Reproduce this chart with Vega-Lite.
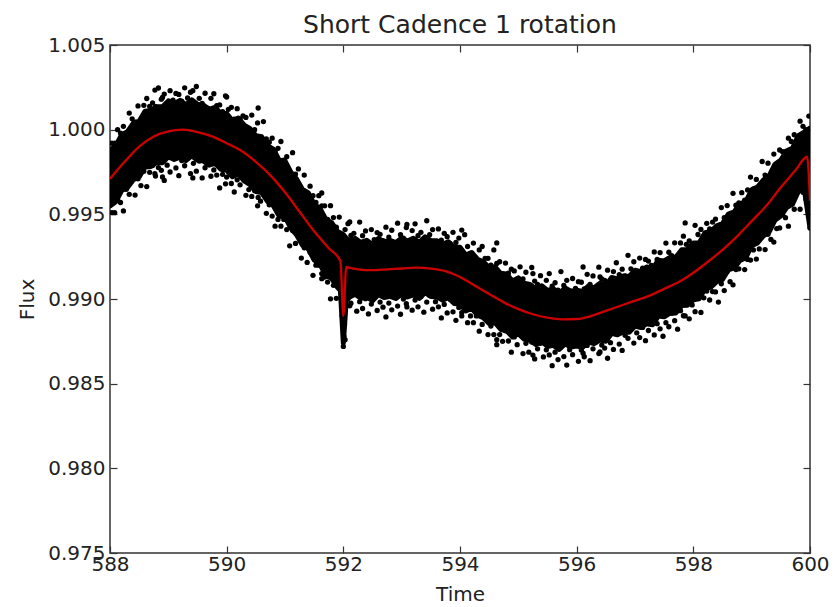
{
  "$schema": "https://vega.github.io/schema/vega-lite/v6.json",
  "width": 700,
  "height": 508,
  "autosize": {"type": "none"},
  "padding": {"left": 110, "top": 45, "right": 25, "bottom": 54},
  "background": "white",
  "title": {"text": "Short Cadence 1 rotation", "fontSize": 25, "font": "DejaVu Sans", "fontWeight": "normal", "color": "#222", "offset": -3},
  "datasets": {
    "band": [
      {"t":588.0,"lo":0.99550,"hi":0.99880},{"t":588.1,"lo":0.99575,"hi":0.99905},{"t":588.2,"lo":0.99640,"hi":0.99970},{"t":588.3,"lo":0.99658,"hi":0.99988},{"t":588.4,"lo":0.99704,"hi":1.00039},{"t":588.5,"lo":0.99720,"hi":1.00050},{"t":588.6,"lo":0.99779,"hi":1.00109},{"t":588.7,"lo":0.99783,"hi":1.00113},{"t":588.8,"lo":0.99806,"hi":1.00136},{"t":588.9,"lo":0.99805,"hi":1.00135},
      {"t":589.0,"lo":0.99840,"hi":1.00170},{"t":589.1,"lo":0.99824,"hi":1.00154},{"t":589.2,"lo":0.99838,"hi":1.00173},{"t":589.3,"lo":0.99817,"hi":1.00147},{"t":589.4,"lo":0.99846,"hi":1.00176},{"t":589.5,"lo":0.99820,"hi":1.00150},{"t":589.6,"lo":0.99815,"hi":1.00145},{"t":589.7,"lo":0.99790,"hi":1.00120},{"t":589.8,"lo":0.99802,"hi":1.00132},{"t":589.9,"lo":0.99766,"hi":1.00096},
      {"t":590.0,"lo":0.99760,"hi":1.00095},{"t":590.1,"lo":0.99722,"hi":1.00052},{"t":590.2,"lo":0.99739,"hi":1.00069},{"t":590.3,"lo":0.99697,"hi":1.00027},{"t":590.4,"lo":0.99676,"hi":1.00006},{"t":590.5,"lo":0.99635,"hi":0.99965},{"t":590.6,"lo":0.99628,"hi":0.99958},{"t":590.7,"lo":0.99576,"hi":0.99906},{"t":590.8,"lo":0.99550,"hi":0.99885},{"t":590.9,"lo":0.99490,"hi":0.99820},
      {"t":591.0,"lo":0.99485,"hi":0.99815},{"t":591.1,"lo":0.99419,"hi":0.99749},{"t":591.2,"lo":0.99378,"hi":0.99708},{"t":591.3,"lo":0.99317,"hi":0.99647},{"t":591.4,"lo":0.99296,"hi":0.99626},{"t":591.5,"lo":0.99230,"hi":0.99560},{"t":591.6,"lo":0.99205,"hi":0.99535},{"t":591.7,"lo":0.99140,"hi":0.99470},{"t":591.8,"lo":0.99121,"hi":0.99451},{"t":591.9,"lo":0.99069,"hi":0.99399},
      {"t":591.95,"lo":0.99050,"hi":0.99390},{"t":592.0,"lo":0.98740,"hi":0.99380},{"t":592.05,"lo":0.98990,"hi":0.99360},
      {"t":592.1,"lo":0.99010,"hi":0.99340},{"t":592.2,"lo":0.99028,"hi":0.99358},{"t":592.3,"lo":0.99004,"hi":0.99334},{"t":592.4,"lo":0.99012,"hi":0.99347},{"t":592.5,"lo":0.98990,"hi":0.99320},{"t":592.6,"lo":0.99027,"hi":0.99357},{"t":592.7,"lo":0.99009,"hi":0.99339},{"t":592.8,"lo":0.99016,"hi":0.99346},{"t":592.9,"lo":0.99003,"hi":0.99333},
      {"t":593.0,"lo":0.99030,"hi":0.99360},{"t":593.1,"lo":0.99012,"hi":0.99342},{"t":593.2,"lo":0.99024,"hi":0.99359},{"t":593.3,"lo":0.99004,"hi":0.99334},{"t":593.4,"lo":0.99037,"hi":0.99367},{"t":593.5,"lo":0.99015,"hi":0.99345},{"t":593.6,"lo":0.99014,"hi":0.99344},{"t":593.7,"lo":0.98993,"hi":0.99323},{"t":593.8,"lo":0.99008,"hi":0.99338},{"t":593.9,"lo":0.98974,"hi":0.99304},
      {"t":594.0,"lo":0.98970,"hi":0.99305},{"t":594.1,"lo":0.98930,"hi":0.99260},{"t":594.2,"lo":0.98945,"hi":0.99275},{"t":594.3,"lo":0.98905,"hi":0.99235},{"t":594.4,"lo":0.98890,"hi":0.99220},{"t":594.5,"lo":0.98855,"hi":0.99185},{"t":594.6,"lo":0.98860,"hi":0.99190},{"t":594.7,"lo":0.98820,"hi":0.99150},{"t":594.8,"lo":0.98812,"hi":0.99147},{"t":594.9,"lo":0.98776,"hi":0.99106},
      {"t":595.0,"lo":0.98795,"hi":0.99125},{"t":595.1,"lo":0.98763,"hi":0.99093},{"t":595.2,"lo":0.98756,"hi":0.99086},{"t":595.3,"lo":0.98731,"hi":0.99061},{"t":595.4,"lo":0.98748,"hi":0.99078},{"t":595.5,"lo":0.98720,"hi":0.99050},{"t":595.6,"lo":0.98726,"hi":0.99061},{"t":595.7,"lo":0.98702,"hi":0.99032},{"t":595.8,"lo":0.98735,"hi":0.99065},{"t":595.9,"lo":0.98716,"hi":0.99046},
      {"t":596.0,"lo":0.98722,"hi":0.99052},{"t":596.1,"lo":0.98714,"hi":0.99044},{"t":596.2,"lo":0.98746,"hi":0.99076},{"t":596.3,"lo":0.98736,"hi":0.99066},{"t":596.4,"lo":0.98758,"hi":0.99093},{"t":596.5,"lo":0.98750,"hi":0.99080},{"t":596.6,"lo":0.98797,"hi":0.99127},{"t":596.7,"lo":0.98789,"hi":0.99119},{"t":596.8,"lo":0.98806,"hi":0.99136},{"t":596.9,"lo":0.98803,"hi":0.99133},
      {"t":597.0,"lo":0.98840,"hi":0.99170},{"t":597.1,"lo":0.98832,"hi":0.99162},{"t":597.2,"lo":0.98854,"hi":0.99189},{"t":597.3,"lo":0.98848,"hi":0.99178},{"t":597.4,"lo":0.98899,"hi":0.99229},{"t":597.5,"lo":0.98895,"hi":0.99225},{"t":597.6,"lo":0.98916,"hi":0.99246},{"t":597.7,"lo":0.98917,"hi":0.99247},{"t":597.8,"lo":0.98961,"hi":0.99291},{"t":597.9,"lo":0.98963,"hi":0.99293},
      {"t":598.0,"lo":0.98995,"hi":0.99330},{"t":598.1,"lo":0.99001,"hi":0.99331},{"t":598.2,"lo":0.99062,"hi":0.99392},{"t":598.3,"lo":0.99069,"hi":0.99399},{"t":598.4,"lo":0.99102,"hi":0.99432},{"t":598.5,"lo":0.99115,"hi":0.99445},{"t":598.6,"lo":0.99172,"hi":0.99502},{"t":598.7,"lo":0.99184,"hi":0.99514},{"t":598.8,"lo":0.99228,"hi":0.99563},{"t":598.9,"lo":0.99244,"hi":0.99574},
      {"t":599.0,"lo":0.99315,"hi":0.99645},{"t":599.1,"lo":0.99331,"hi":0.99661},{"t":599.2,"lo":0.99372,"hi":0.99702},{"t":599.3,"lo":0.99397,"hi":0.99727},{"t":599.4,"lo":0.99466,"hi":0.99796},{"t":599.5,"lo":0.99490,"hi":0.99820},{"t":599.6,"lo":0.99540,"hi":0.99875},{"t":599.7,"lo":0.99560,"hi":0.99890},{"t":599.8,"lo":0.99635,"hi":0.99965},{"t":599.9,"lo":0.99655,"hi":0.99985},
      {"t":600.0,"lo":0.99420,"hi":1.00010}
    ],
    "pts": [
      {"t":588.03,"u":0.99920,"l":0.99510},{"t":588.08,"u":0.99920,"l":0.99510},{"t":588.13,"u":1.00000,"l":0.99590},{"t":588.18,"u":0.99980,"l":0.99570},{"t":588.23,"u":1.00020,"l":0.99520},{"t":588.28,"u":0.99978,"l":0.99648},{"t":588.33,"u":1.00098,"l":0.99618},{"t":588.38,"u":1.00064,"l":0.99714},{"t":588.43,"u":1.00044,"l":0.99614},{"t":588.48,"u":1.00140,"l":0.99710},
      {"t":588.53,"u":1.00060,"l":0.99670},{"t":588.58,"u":1.00144,"l":0.99754},{"t":588.63,"u":1.00184,"l":0.99664},{"t":588.68,"u":1.00138,"l":0.99748},{"t":588.73,"u":1.00158,"l":0.99788},{"t":588.78,"u":1.00136,"l":0.99726},{"t":588.83,"u":1.00246,"l":0.99776},{"t":588.88,"u":1.00180,"l":0.99760},{"t":588.93,"u":1.00210,"l":0.99700},{"t":588.98,"u":1.00150,"l":0.99790},
      {"t":589.03,"u":1.00230,"l":0.99750},{"t":589.08,"u":1.00174,"l":0.99834},{"t":589.13,"u":1.00214,"l":0.99774},{"t":589.18,"u":1.00208,"l":0.99728},{"t":589.23,"u":1.00168,"l":0.99818},{"t":589.28,"u":1.00247,"l":0.99787},{"t":589.33,"u":1.00187,"l":0.99847},{"t":589.38,"u":1.00221,"l":0.99741},{"t":589.43,"u":1.00141,"l":0.99801},{"t":589.48,"u":1.00255,"l":0.99755},
      {"t":589.53,"u":1.00185,"l":0.99815},{"t":589.58,"u":1.00155,"l":0.99715},{"t":589.63,"u":1.00215,"l":0.99775},{"t":589.68,"u":1.00125,"l":0.99805},{"t":589.73,"u":1.00185,"l":0.99725},{"t":589.78,"u":1.00212,"l":0.99762},{"t":589.83,"u":1.00142,"l":0.99732},{"t":589.88,"u":1.00146,"l":0.99656},{"t":589.93,"u":1.00106,"l":0.99736},{"t":589.98,"u":1.00200,"l":0.99680},
      {"t":590.03,"u":1.00120,"l":0.99760},{"t":590.08,"u":1.00132,"l":0.99682},{"t":590.13,"u":1.00062,"l":0.99632},{"t":590.18,"u":1.00124,"l":0.99704},{"t":590.23,"u":1.00064,"l":0.99674},{"t":590.28,"u":1.00082,"l":0.99712},{"t":590.33,"u":1.00072,"l":0.99612},{"t":590.38,"u":1.00006,"l":0.99646},{"t":590.43,"u":1.00086,"l":0.99606},{"t":590.48,"u":1.00000,"l":0.99640},
      {"t":590.53,"u":1.00040,"l":0.99550},{"t":590.58,"u":0.99928,"l":0.99578},{"t":590.63,"u":1.00048,"l":0.99618},{"t":590.68,"u":0.99946,"l":0.99506},{"t":590.73,"u":0.99926,"l":0.99556},{"t":590.78,"u":0.99950,"l":0.99490},{"t":590.83,"u":0.99870,"l":0.99430},{"t":590.88,"u":0.99890,"l":0.99470},{"t":590.93,"u":0.99930,"l":0.99430},{"t":590.98,"u":0.99820,"l":0.99470},
      {"t":591.03,"u":0.99840,"l":0.99410},{"t":591.08,"u":0.99754,"l":0.99314},{"t":591.13,"u":0.99864,"l":0.99404},{"t":591.18,"u":0.99738,"l":0.99328},{"t":591.23,"u":0.99768,"l":0.99388},{"t":591.28,"u":0.99652,"l":0.99242},{"t":591.33,"u":0.99732,"l":0.99302},{"t":591.38,"u":0.99626,"l":0.99216},{"t":591.43,"u":0.99666,"l":0.99276},{"t":591.48,"u":0.99610,"l":0.99140},
      {"t":591.53,"u":0.99570,"l":0.99200},{"t":591.58,"u":0.99610,"l":0.99200},{"t":591.63,"u":0.99550,"l":0.99120},{"t":591.68,"u":0.99550,"l":0.99130},{"t":591.73,"u":0.99470,"l":0.99100},{"t":591.78,"u":0.99551,"l":0.99001},{"t":591.83,"u":0.99481,"l":0.99081},{"t":591.88,"u":0.99424,"l":0.99004},{"t":591.93,"u":0.99484,"l":0.99084},{"t":591.98,"u":0.99380,"l":0.98900},
      {"t":592.03,"u":0.99410,"l":0.98760},{"t":592.08,"u":0.99445,"l":0.99005},{"t":592.13,"u":0.99375,"l":0.98975},{"t":592.18,"u":0.99388,"l":0.99028},{"t":592.23,"u":0.99348,"l":0.98928},{"t":592.28,"u":0.99454,"l":0.98984},{"t":592.33,"u":0.99374,"l":0.98944},{"t":592.38,"u":0.99402,"l":0.99002},{"t":592.43,"u":0.99332,"l":0.98912},{"t":592.48,"u":0.99410,"l":0.98970},
      {"t":592.53,"u":0.99350,"l":0.99010},{"t":592.58,"u":0.99392,"l":0.98932},{"t":592.63,"u":0.99382,"l":0.98982},{"t":592.68,"u":0.99344,"l":0.98952},{"t":592.73,"u":0.99424,"l":0.98894},{"t":592.78,"u":0.99366,"l":0.98976},{"t":592.83,"u":0.99406,"l":0.98936},{"t":592.88,"u":0.99328,"l":0.99018},{"t":592.93,"u":0.99448,"l":0.98958},{"t":592.98,"u":0.99380,"l":0.98910},
      {"t":593.03,"u":0.99360,"l":0.99000},{"t":593.08,"u":0.99422,"l":0.98972},{"t":593.13,"u":0.99342,"l":0.99032},{"t":593.18,"u":0.99404,"l":0.98934},{"t":593.23,"u":0.99444,"l":0.98994},{"t":593.28,"u":0.99374,"l":0.98954},{"t":593.33,"u":0.99394,"l":0.99014},{"t":593.38,"u":0.99352,"l":0.98922},{"t":593.43,"u":0.99462,"l":0.98982},{"t":593.48,"u":0.99380,"l":0.99020},
      {"t":593.53,"u":0.99410,"l":0.98940},{"t":593.58,"u":0.99334,"l":0.98984},{"t":593.63,"u":0.99414,"l":0.98954},{"t":593.68,"u":0.99348,"l":0.98888},{"t":593.73,"u":0.99388,"l":0.98968},{"t":593.78,"u":0.99368,"l":0.98918},{"t":593.83,"u":0.99328,"l":0.98998},{"t":593.88,"u":0.99394,"l":0.98924},{"t":593.93,"u":0.99334,"l":0.98874},{"t":593.98,"u":0.99360,"l":0.98950},
      {"t":594.03,"u":0.99280,"l":0.98920},{"t":594.08,"u":0.99380,"l":0.98960},{"t":594.13,"u":0.99310,"l":0.98860},{"t":594.18,"u":0.99270,"l":0.98900},{"t":594.23,"u":0.99330,"l":0.98860},{"t":594.28,"u":0.99230,"l":0.98900},{"t":594.33,"u":0.99290,"l":0.98810},{"t":594.38,"u":0.99310,"l":0.98850},{"t":594.43,"u":0.99240,"l":0.98890},{"t":594.48,"u":0.99240,"l":0.98790},
      {"t":594.53,"u":0.99200,"l":0.98840},{"t":594.58,"u":0.99290,"l":0.98790},{"t":594.63,"u":0.99210,"l":0.98730},{"t":594.68,"u":0.99220,"l":0.98790},{"t":594.73,"u":0.99150,"l":0.98750},{"t":594.78,"u":0.99212,"l":0.98812},{"t":594.83,"u":0.99152,"l":0.98752},{"t":594.88,"u":0.99176,"l":0.98686},{"t":594.93,"u":0.99166,"l":0.98776},{"t":594.98,"u":0.99110,"l":0.98730},
      {"t":595.03,"u":0.99190,"l":0.98790},{"t":595.08,"u":0.99118,"l":0.98678},{"t":595.13,"u":0.99158,"l":0.98738},{"t":595.18,"u":0.99066,"l":0.98686},{"t":595.23,"u":0.99186,"l":0.98746},{"t":595.28,"u":0.99106,"l":0.98646},{"t":595.33,"u":0.99086,"l":0.98706},{"t":595.38,"u":0.99138,"l":0.98738},{"t":595.43,"u":0.99058,"l":0.98658},{"t":595.48,"u":0.99110,"l":0.98700},
      {"t":595.53,"u":0.99150,"l":0.98670},{"t":595.58,"u":0.99076,"l":0.98606},{"t":595.63,"u":0.99096,"l":0.98686},{"t":595.68,"u":0.99052,"l":0.98642},{"t":595.73,"u":0.99162,"l":0.98722},{"t":595.78,"u":0.99080,"l":0.98660},{"t":595.83,"u":0.99110,"l":0.98610},{"t":595.88,"u":0.99041,"l":0.98701},{"t":595.93,"u":0.99121,"l":0.98671},{"t":595.98,"u":0.99062,"l":0.98732},
      {"t":596.03,"u":0.99102,"l":0.98632},{"t":596.08,"u":0.99099,"l":0.98699},{"t":596.13,"u":0.99059,"l":0.98659},{"t":596.18,"u":0.99146,"l":0.98726},{"t":596.23,"u":0.99086,"l":0.98636},{"t":596.28,"u":0.99136,"l":0.98706},{"t":596.33,"u":0.99056,"l":0.98746},{"t":596.38,"u":0.99188,"l":0.98678},{"t":596.43,"u":0.99118,"l":0.98728},{"t":596.48,"u":0.99110,"l":0.98710},
      {"t":596.53,"u":0.99170,"l":0.98650},{"t":596.58,"u":0.99102,"l":0.98742},{"t":596.63,"u":0.99162,"l":0.98702},{"t":596.68,"u":0.99214,"l":0.98794},{"t":596.73,"u":0.99144,"l":0.98734},{"t":596.78,"u":0.99176,"l":0.98696},{"t":596.83,"u":0.99136,"l":0.98786},{"t":596.88,"u":0.99258,"l":0.98768},{"t":596.93,"u":0.99178,"l":0.98828},{"t":596.98,"u":0.99220,"l":0.98740},
      {"t":597.03,"u":0.99150,"l":0.98800},{"t":597.08,"u":0.99242,"l":0.98772},{"t":597.13,"u":0.99182,"l":0.98832},{"t":597.18,"u":0.99234,"l":0.98754},{"t":597.23,"u":0.99224,"l":0.98814},{"t":597.28,"u":0.99198,"l":0.98868},{"t":597.33,"u":0.99278,"l":0.98788},{"t":597.38,"u":0.99234,"l":0.98854},{"t":597.43,"u":0.99274,"l":0.98824},{"t":597.48,"u":0.99210,"l":0.98780},
      {"t":597.53,"u":0.99330,"l":0.98860},{"t":597.58,"u":0.99276,"l":0.98836},{"t":597.63,"u":0.99256,"l":0.98916},{"t":597.68,"u":0.99332,"l":0.98872},{"t":597.73,"u":0.99252,"l":0.98822},{"t":597.78,"u":0.99331,"l":0.98931},{"t":597.83,"u":0.99371,"l":0.98901},{"t":597.88,"u":0.99323,"l":0.98983},{"t":597.93,"u":0.99343,"l":0.98883},{"t":597.98,"u":0.99325,"l":0.98965},
      {"t":598.03,"u":0.99435,"l":0.98925},{"t":598.08,"u":0.99381,"l":0.99011},{"t":598.13,"u":0.99411,"l":0.98921},{"t":598.18,"u":0.99367,"l":0.99007},{"t":598.23,"u":0.99447,"l":0.99047},{"t":598.28,"u":0.99414,"l":0.98994},{"t":598.33,"u":0.99454,"l":0.99044},{"t":598.38,"u":0.99472,"l":0.99042},{"t":598.43,"u":0.99432,"l":0.98982},{"t":598.48,"u":0.99540,"l":0.99090},
      {"t":598.53,"u":0.99480,"l":0.99050},{"t":598.58,"u":0.99552,"l":0.99162},{"t":598.63,"u":0.99472,"l":0.99102},{"t":598.68,"u":0.99624,"l":0.99084},{"t":598.73,"u":0.99554,"l":0.99174},{"t":598.78,"u":0.99568,"l":0.99178},{"t":598.83,"u":0.99628,"l":0.99238},{"t":598.88,"u":0.99584,"l":0.99174},{"t":598.93,"u":0.99644,"l":0.99234},{"t":598.98,"u":0.99720,"l":0.99230},
      {"t":599.03,"u":0.99650,"l":0.99290},{"t":599.08,"u":0.99706,"l":0.99236},{"t":599.13,"u":0.99666,"l":0.99296},{"t":599.18,"u":0.99812,"l":0.99372},{"t":599.23,"u":0.99732,"l":0.99292},{"t":599.28,"u":0.99802,"l":0.99382},{"t":599.33,"u":0.99732,"l":0.99352},{"t":599.38,"u":0.99856,"l":0.99336},{"t":599.43,"u":0.99796,"l":0.99416},{"t":599.48,"u":0.99880,"l":0.99420},
      {"t":599.53,"u":0.99870,"l":0.99500},{"t":599.58,"u":0.99870,"l":0.99480},{"t":599.63,"u":0.99950,"l":0.99430},{"t":599.68,"u":0.99930,"l":0.99560},{"t":599.73,"u":0.99970,"l":0.99530},{"t":599.78,"u":0.99930,"l":0.99630},{"t":599.83,"u":1.00050,"l":0.99530},{"t":599.88,"u":1.00020,"l":0.99630},{"t":599.93,"u":1.00000,"l":0.99590},{"t":599.98,"u":1.00080,"l":0.99670},
      {"t":588.77,"u":1.00234,"l":0.99740},{"t":588.9,"u":1.00190,"l":0.99721},{"t":589.42,"u":1.00230,"l":0.99715},{"t":590.0,"u":1.00193,"l":0.99720},{"t":590.54,"u":1.00128,"l":0.99600},{"t":591.63,"u":0.99626,"l":0.99150},{"t":592.11,"u":0.99455,"l":0.98960},{"t":593.09,"u":0.99440,"l":0.98953},{"t":594.03,"u":0.99407,"l":0.98900},{"t":594.63,"u":0.99331,"l":0.98760},
      {"t":595.25,"u":0.99150,"l":0.98669},{"t":596.11,"u":0.99189,"l":0.98680},{"t":596.4,"u":0.99130,"l":0.98687},{"t":597.86,"u":0.99449,"l":0.98900},
      {"t":591.99,"u":0.99300,"l":0.98840},{"t":592.0,"u":0.99250,"l":0.98720},{"t":592.01,"u":0.99150,"l":0.98780},{"t":592.02,"u":0.99100,"l":0.98850},{"t":599.99,"u":0.99700,"l":0.99480},{"t":600.0,"u":0.99600,"l":0.99420}
    ],
    "model": [
      {"t":588.0,"f":0.99710},{"t":588.25,"f":0.99810},{"t":588.5,"f":0.99900},{"t":588.75,"f":0.99960},{"t":589.0,"f":0.99990},{"t":589.25,"f":1.00000},{"t":589.5,"f":0.99985},{"t":589.75,"f":0.99960},
      {"t":590.0,"f":0.99920},{"t":590.25,"f":0.99875},{"t":590.5,"f":0.99810},{"t":590.75,"f":0.99730},{"t":591.0,"f":0.99630},{"t":591.25,"f":0.99515},{"t":591.5,"f":0.99400},{"t":591.75,"f":0.99300},
      {"t":591.95,"f":0.99225},{"t":592.0,"f":0.98900},{"t":592.05,"f":0.99190},{"t":592.1,"f":0.99185},{"t":592.25,"f":0.99175},{"t":592.5,"f":0.99170},{"t":592.75,"f":0.99175},
      {"t":593.0,"f":0.99180},{"t":593.25,"f":0.99185},{"t":593.5,"f":0.99180},{"t":593.75,"f":0.99165},{"t":594.0,"f":0.99130},{"t":594.25,"f":0.99080},{"t":594.5,"f":0.99030},{"t":594.75,"f":0.98980},
      {"t":595.0,"f":0.98940},{"t":595.25,"f":0.98910},{"t":595.5,"f":0.98890},{"t":595.75,"f":0.98880},{"t":596.0,"f":0.98882},{"t":596.25,"f":0.98900},{"t":596.5,"f":0.98930},{"t":596.75,"f":0.98960},
      {"t":597.0,"f":0.98990},{"t":597.25,"f":0.99020},{"t":597.5,"f":0.99060},{"t":597.75,"f":0.99100},{"t":598.0,"f":0.99155},{"t":598.25,"f":0.99220},{"t":598.5,"f":0.99290},{"t":598.75,"f":0.99370},
      {"t":599.0,"f":0.99460},{"t":599.25,"f":0.99550},{"t":599.5,"f":0.99660},{"t":599.75,"f":0.99760},{"t":599.95,"f":0.99840},{"t":600.0,"f":0.99580}
    ]
  },
  "layer": [
    {
      "data": {"name": "band"},
      "mark": {"type": "area", "color": "black", "stroke": "black", "strokeWidth": 5, "strokeJoin": "round", "interpolate": "linear", "clip": true},
      "encoding": {
        "x": {"field": "t", "type": "quantitative", "scale": {"domain": [588, 600], "nice": false, "zero": false},
              "axis": {"orient": "bottom", "title": "Time", "values": [588, 590, 592, 594, 596, 598, 600], "format": "d", "labelPadding": 8, "titlePadding": 10}},
        "y": {"field": "lo", "type": "quantitative", "scale": {"domain": [0.975, 1.005], "nice": false, "zero": false},
              "axis": {"orient": "left", "title": "Flux", "values": [0.975, 0.98, 0.985, 0.99, 0.995, 1.0, 1.005], "format": ".3f", "labelPadding": 12, "titlePadding": 10}},
        "y2": {"field": "hi"}
      }
    },
    {
      "data": {"name": "pts"},
      "transform": [{"fold": ["u", "l"], "as": ["side", "f"]}],
      "mark": {"type": "point", "filled": true, "color": "black", "opacity": 1, "size": 28, "shape": "circle", "clip": true},
      "encoding": {
        "x": {"field": "t", "type": "quantitative", "axis": {"orient": "top", "labels": false, "title": null, "values": [588, 590, 592, 594, 596, 598, 600]}},
        "y": {"field": "f", "type": "quantitative", "axis": {"orient": "right", "labels": false, "title": null, "values": [0.975, 0.98, 0.985, 0.99, 0.995, 1.0, 1.005]}}
      }
    },
    {
      "data": {"name": "model"},
      "mark": {"type": "line", "color": "#cc0000", "strokeWidth": 2.3, "interpolate": "monotone", "clip": true},
      "encoding": {
        "x": {"field": "t", "type": "quantitative", "axis": null},
        "y": {"field": "f", "type": "quantitative", "axis": null}
      }
    }
  ],
  "resolve": {"axis": {"x": "independent", "y": "independent"}},
  "config": {
    "font": "DejaVu Sans",
    "view": {"stroke": "#333", "strokeWidth": 1.5},
    "axis": {
      "domain": false, "grid": false, "labelFlush": false,
      "labelFont": "DejaVu Sans", "labelFontSize": 20, "labelColor": "#222",
      "titleFont": "DejaVu Sans", "titleFontSize": 20, "titleFontWeight": "normal", "titleColor": "#222",
      "tickColor": "#333", "tickSize": -7, "tickWidth": 1.2
    }
  }
}
